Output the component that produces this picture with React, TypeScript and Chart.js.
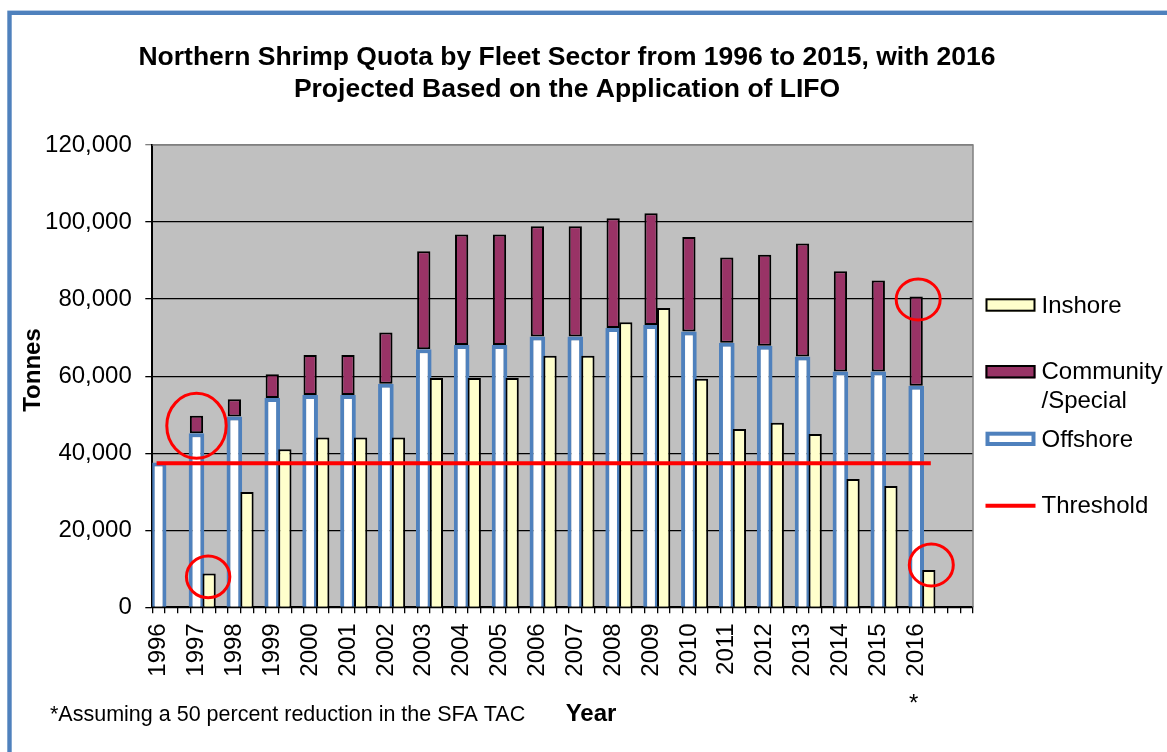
import React, { useEffect, useRef } from 'react';
import { Chart, registerables } from 'chart.js';

Chart.register(...registerables);

const FONT = "'Liberation Sans', Arial, Helvetica, sans-serif";

// ---- data (tonnes) ----
const years = ['1996', '1997', '1998', '1999', '2000', '2001', '2002', '2003', '2004', '2005', '2006',
  '2007', '2008', '2009', '2010', '2011', '2012', '2013', '2014', '2015', '2016'];
const offshore = [37600, 45200, 49500, 54300, 55100, 55100, 58000, 67000, 68100, 68100, 70300,
  70300, 72500, 73300, 71600, 68700, 67900, 65100, 61200, 61200, 57500];
const community = [null, 4500, 4500, 6200, 10400, 10400, 13300, 25400, 28700, 28700, 28600,
  28600, 28500, 29000, 24500, 22100, 23600, 29300, 26000, 23600, 23200];
const inshore = [null, 8800, 29900, 41000, 44100, 44100, 44100, 59500, 59500, 59500, 65300,
  65300, 74000, 77700, 59300, 46300, 47900, 45000, 33300, 31500, 9700];
const threshold = 37400;
const yMin = 0;
const yMax = 120000;
const yStep = 20000;

const titleLines = [
  'Northern Shrimp Quota by Fleet Sector from 1996 to 2015, with 2016',
  'Projected Based on the Application of LIFO',
];
const yTitle = 'Tonnes';
const xTitle = 'Year';
const footnote = '*Assuming a 50 percent reduction in the SFA TAC';
const legendItems = ['Inshore', 'Community\n/Special', 'Offshore', 'Threshold'];

// category layout: 3 slots per year (stack, inshore, gap), plus trailing empty slots
const SLOTS_PER_YEAR = 3;
const TOTAL_SLOTS = 65;
const LINE_SLOTS = 62;

// highlight circles: anchored on a year's slot (0 = stacked bar, 1 = inshore bar)
const highlights = [
  { year: '1997', sub: 0, value: 47100, dx: 0, rx: 29.7, ry: 32.5 },
  { year: '1997', sub: 1, value: 7900, dx: -1, rx: 21.7, ry: 20.8 },
  { year: '2016', sub: 0, value: 79900, dx: 2, rx: 22, ry: 20.5 },
  { year: '2016', sub: 1, value: 11000, dx: 2.5, rx: 22, ry: 21 },
];

const labels: string[] = Array(TOTAL_SLOTS).fill('');
years.forEach((y, i) => { labels[i * SLOTS_PER_YEAR] = y; });

const toSlots = (vals: (number | null)[], sub: number) => {
  const arr: (number | null)[] = Array(TOTAL_SLOTS).fill(null);
  vals.forEach((v, i) => { arr[i * SLOTS_PER_YEAR + sub] = v; });
  return arr;
};

const thresholdSlots: (number | null)[] = Array(TOTAL_SLOTS).fill(null);
for (let i = 0; i < LINE_SLOTS; i++) thresholdSlots[i] = threshold;

const decorPlugin = {
  id: 'decor',
  beforeDraw(chart: any) {
    const { ctx, chartArea: a } = chart;
    ctx.save();
    ctx.fillStyle = '#ffffff';
    ctx.fillRect(0, 0, chart.width, chart.height);
    ctx.strokeStyle = '#4f81bd';
    ctx.lineWidth = 4.4;
    ctx.strokeRect(9.5, 12.8, 3000, 3000);
    ctx.fillStyle = '#c0c0c0';
    ctx.fillRect(a.left, a.top, a.right - a.left, a.bottom - a.top);
    ctx.restore();
  },
  beforeDatasetsDraw(chart: any) {
    const { ctx, chartArea: a } = chart;
    ctx.save();
    ctx.strokeStyle = '#808080';
    ctx.lineWidth = 1.5;
    ctx.beginPath();
    ctx.moveTo(a.left, a.top);
    ctx.lineTo(a.right, a.top);
    ctx.lineTo(a.right, a.bottom);
    ctx.stroke();
    ctx.restore();
  },
  afterDatasetsDraw(chart: any) {
    const { ctx } = chart;
    const xs = chart.scales.x;
    const ys = chart.scales.y;
    ctx.save();
    ctx.strokeStyle = '#ff0000';
    ctx.lineWidth = 3;
    highlights.forEach((h) => {
      const idx = years.indexOf(h.year) * SLOTS_PER_YEAR + h.sub;
      const cx = xs.getPixelForValue(idx) + h.dx;
      const cy = ys.getPixelForValue(h.value);
      ctx.beginPath();
      ctx.ellipse(cx, cy, h.rx, h.ry, 0, 0, Math.PI * 2);
      ctx.stroke();
    });
    ctx.restore();
  },
  afterDraw(chart: any) {
    const { ctx } = chart;
    const xs = chart.scales.x;
    ctx.save();
    ctx.fillStyle = '#000';
    // title
    ctx.font = `bold 26.5px ${FONT}`;
    ctx.textAlign = 'center';
    ctx.textBaseline = 'alphabetic';
    ctx.fillText(titleLines[0], 567, 65);
    ctx.fillText(titleLines[1], 567, 96.5);
    // y title
    ctx.save();
    ctx.font = `bold 24px ${FONT}`;
    ctx.translate(39.5, 370);
    ctx.rotate(-Math.PI / 2);
    ctx.fillText(yTitle, 0, 0);
    ctx.restore();
    // x title
    ctx.font = `bold 24px ${FONT}`;
    ctx.fillText(xTitle, 591, 721);
    // footnote
    ctx.font = `21.5px ${FONT}`;
    ctx.textAlign = 'left';
    ctx.fillText(footnote, 50, 720.7);
    // asterisk under the projected year
    ctx.font = `24px ${FONT}`;
    ctx.textAlign = 'center';
    const starX = xs.getPixelForValue(years.indexOf('2016') * SLOTS_PER_YEAR) - 2.5;
    ctx.fillText('*', starX, 710.5);

    // legend
    const sx = 985.5, sw = 50;
    // Inshore
    ctx.fillStyle = '#ffffcc';
    ctx.fillRect(sx, 298.3, sw, 13.4);
    ctx.strokeStyle = '#000';
    ctx.lineWidth = 2;
    ctx.strokeRect(sx + 1, 299.3, sw - 2, 11.4);
    // Community
    ctx.fillStyle = '#993366';
    ctx.fillRect(sx, 365, sw, 13.4);
    ctx.strokeRect(sx + 1, 366, sw - 2, 11.4);
    // Offshore
    ctx.fillStyle = '#ffffff';
    ctx.fillRect(sx, 431.7, sw, 14.3);
    ctx.strokeStyle = '#4f81bd';
    ctx.lineWidth = 4;
    ctx.strokeRect(sx + 2, 433.7, sw - 4, 10.3);
    // Threshold
    ctx.strokeStyle = '#ff0000';
    ctx.lineWidth = 4;
    ctx.beginPath();
    ctx.moveTo(sx, 505.7);
    ctx.lineTo(sx + sw, 505.7);
    ctx.stroke();

    ctx.fillStyle = '#000';
    ctx.font = `24px ${FONT}`;
    ctx.textAlign = 'left';
    const tx = 1041.5;
    const baselines = [[312.7], [379.3, 407.5], [446.7], [513.3]];
    legendItems.forEach((item, i) => {
      item.split('\n').forEach((line, j) => ctx.fillText(line, tx, baselines[i][j]));
    });
    ctx.restore();
  },
};

export default function App() {
  const canvasRef = useRef<HTMLCanvasElement | null>(null);

  useEffect(() => {
    if (!canvasRef.current) return;
    Chart.defaults.font.family = FONT;
    const chart = new Chart(canvasRef.current, {
      type: 'bar',
      data: {
        labels,
        datasets: [
          {
            type: 'line',
            label: 'Threshold',
            data: thresholdSlots,
            borderColor: '#ff0000',
            borderWidth: 4,
            pointRadius: 0,
            spanGaps: true,
            borderCapStyle: 'square',
            stack: 'threshold',
            order: 0,
          } as any,
          {
            label: 'Inshore',
            data: toSlots(inshore, 1),
            backgroundColor: '#ffffcc',
            borderColor: '#000000',
            borderWidth: 2,
            borderSkipped: 'start',
            barPercentage: 1.05,
            categoryPercentage: 1,
            stack: 'fleet',
            order: 1,
          },
          {
            label: 'Offshore',
            data: toSlots(offshore, 0),
            backgroundColor: '#ffffff',
            borderColor: '#4f81bd',
            borderWidth: 4,
            borderSkipped: 'start',
            barPercentage: 1.24,
            categoryPercentage: 1,
            stack: 'fleet',
            order: 1,
          },
          {
            label: 'Community/Special',
            data: toSlots(community, 0),
            backgroundColor: '#993366',
            borderColor: '#000000',
            borderWidth: 2,
            borderSkipped: false,
            barPercentage: 1.05,
            categoryPercentage: 1,
            stack: 'fleet',
            order: 1,
          },
        ],
      },
      options: {
        responsive: false,
        animation: false,
        events: [],
        layout: { padding: { left: 0, top: 145, right: 194, bottom: 0 } },
        plugins: {
          legend: { display: false },
          title: { display: false },
          tooltip: { enabled: false },
        },
        scales: {
          x: {
            type: 'category',
            stacked: true,
            offset: true,
            grid: {
              offset: true,
              drawOnChartArea: false,
              drawTicks: true,
              tickLength: 6,
              color: '#000',
              lineWidth: 1.3,
            },
            border: { display: true, color: '#000', width: 2 },
            ticks: {
              autoSkip: false,
              minRotation: 90,
              maxRotation: 90,
              padding: 10,
              color: '#000',
              font: { family: FONT, size: 24 },
            },
            afterFit: (s: any) => { s.height = 144.7; },
          },
          y: {
            stacked: true,
            min: yMin,
            max: yMax,
            grid: {
              color: (c: any) => (c.tick && c.tick.value === yMax ? '#808080' : '#000000'),
              lineWidth: 1.3,
              tickLength: 7,
            },
            border: { display: true, color: '#000', width: 2 },
            ticks: {
              stepSize: yStep,
              padding: 13.5,
              color: '#000',
              font: { family: FONT, size: 24 },
              callback: (v: any) => Number(v).toLocaleString('en-US'),
            },
            afterFit: (s: any) => { s.width = 152.3; },
          },
        },
      },
      plugins: [decorPlugin],
    } as any);
    return () => chart.destroy();
  }, []);

  return (
    <div style={{ position: 'fixed', left: 0, top: 0, width: 1167, height: 752, overflow: 'hidden', background: '#fff' }}>
      <canvas ref={canvasRef} width={1167} height={752} style={{ display: 'block' }} />
    </div>
  );
}
